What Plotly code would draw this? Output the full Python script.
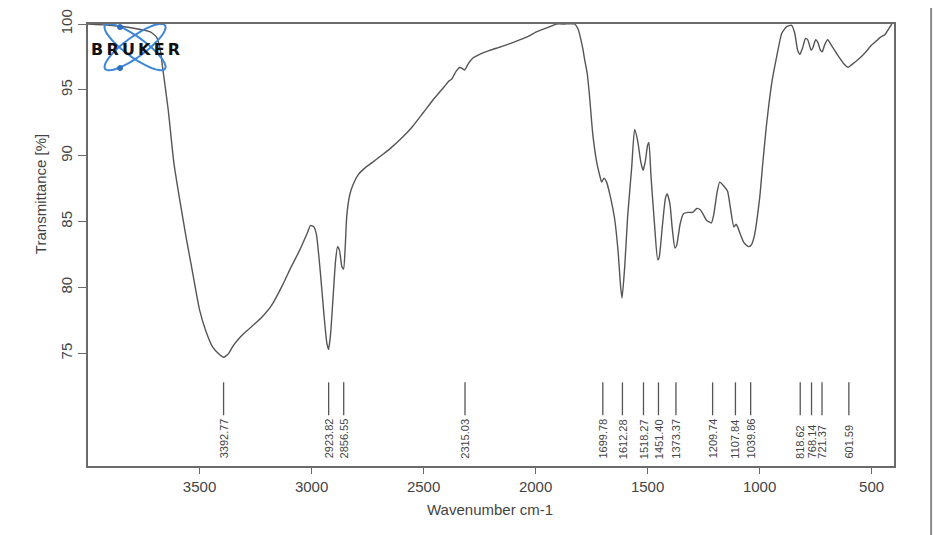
import numpy as np
import plotly.graph_objects as go

# IR spectrum (wavenumber cm-1, transmittance %)
wavenumber = [
    3998, 3900, 3800, 3720, 3692, 3675, 3665, 3640, 3615, 3589,
    3560, 3536, 3500, 3470, 3442, 3410, 3392, 3370, 3353, 3320,
    3290, 3250, 3219, 3180, 3129, 3090, 3054, 3020, 3005, 2990,
    2978, 2960, 2945, 2932, 2924, 2915, 2905, 2893, 2884, 2875,
    2865, 2857, 2850, 2843, 2830, 2815, 2790, 2760, 2728, 2690,
    2652, 2600, 2550, 2500, 2450, 2400, 2385, 2375, 2355, 2339,
    2325, 2317, 2300, 2281, 2250, 2205, 2150, 2085, 2040, 1996,
    1950, 1906, 1870, 1826, 1810, 1790, 1781, 1770, 1759, 1745,
    1728, 1715, 1705, 1695, 1683, 1665, 1647, 1632, 1620, 1614,
    1602, 1589, 1571, 1558, 1545, 1530, 1520, 1510, 1500, 1494,
    1485, 1470, 1455, 1448, 1435, 1420, 1412, 1400, 1390, 1378,
    1370, 1355, 1340, 1320, 1299, 1280, 1265, 1250, 1237, 1215,
    1205, 1190, 1178, 1160, 1143, 1130, 1115, 1105, 1098, 1085,
    1070, 1050, 1038, 1025, 999, 987, 970, 946, 924, 901,
    879, 857, 843, 830, 820, 808, 795, 785, 770, 762,
    750, 740, 728, 720, 710, 696, 680, 650, 620, 605,
    590, 560, 530, 500, 480, 460, 440, 425, 410,
]
transmittance = [
    100.0, 99.9, 99.7, 99.4, 99.0, 98.0, 96.7, 93.5, 89.5, 86.7,
    83.8, 81.6, 78.3, 76.6, 75.5, 74.9, 74.7, 75.0, 75.5, 76.2,
    76.7, 77.3, 77.8, 78.6, 80.2, 81.6, 82.8, 84.1, 84.7, 84.6,
    84.0, 81.0, 78.0, 75.8, 75.3, 76.5, 79.0, 82.0, 83.1, 82.8,
    81.6, 81.4, 83.0, 85.4, 87.0, 87.8, 88.6, 89.1, 89.5, 90.0,
    90.5, 91.3, 92.2, 93.3, 94.4, 95.4, 95.7, 95.8, 96.4, 96.7,
    96.6, 96.5, 97.0, 97.4, 97.7, 98.0, 98.3, 98.7, 99.0, 99.4,
    99.7, 100.0, 100.0, 100.0, 99.6, 98.2, 97.3, 96.3, 94.5, 91.7,
    89.6, 88.6, 88.0, 88.3, 88.0, 86.8, 85.2, 82.8, 80.0, 79.2,
    81.6, 85.4, 89.1, 92.0, 91.2, 89.5, 88.9, 89.6, 90.8, 91.0,
    88.5, 85.0, 82.1, 82.3, 84.5, 86.8, 87.1, 86.3, 84.5, 83.0,
    83.2, 84.8, 85.6, 85.7, 85.7, 86.0, 85.9, 85.5, 85.1, 84.9,
    85.5, 87.2, 88.0, 87.7, 87.3, 86.0, 84.6, 84.8, 84.6, 84.0,
    83.4, 83.1, 83.2, 83.8, 86.9, 89.2, 92.2, 95.5, 97.5, 99.3,
    99.8, 99.9, 99.3, 98.0, 97.7, 98.2, 98.9, 98.8, 98.0, 98.2,
    98.8, 98.6, 98.0, 97.9, 98.4, 98.8, 98.4, 97.6, 96.9, 96.7,
    96.9, 97.3, 97.8, 98.4, 98.7, 99.0, 99.2, 99.6, 100.0,
]

# peak picks printed under the spectrum
peak_labels = [
    "3392.77", "2923.82", "2856.55", "2315.03", "1699.78", "1612.28",
    "1518.27", "1451.40", "1373.37", "1209.74", "1107.84", "1039.86",
    "818.62", "768.14", "721.37", "601.59",
]
peak_pos = [float(p) for p in peak_labels]

x_ticks = [3500, 3000, 2500, 2000, 1500, 1000, 500]
y_ticks = [75, 80, 85, 90, 95, 100]

grey = "#555555"
axis_grey = "#6a6a6a"
font_fam = "Liberation Sans, Arial, sans-serif"

fig = go.Figure()
fig.add_trace(go.Scatter(
    x=wavenumber, y=transmittance, mode="lines",
    line=dict(color=grey, width=1.4, shape="spline", smoothing=0.5),
    hoverinfo="skip", showlegend=False,
))

# peak marker lines
px_, py_ = [], []
for p in peak_pos:
    px_ += [p, p, None]
    py_ += [72.8, 70.3, None]
fig.add_trace(go.Scatter(
    x=px_, y=py_, mode="lines", line=dict(color=grey, width=1.3),
    hoverinfo="skip", showlegend=False,
))

annotations = []
for p, lab in zip(peak_pos, peak_labels):
    annotations.append(dict(
        x=p, y=66.85, xref="x", yref="y", text=lab, showarrow=False,
        textangle=-90, xanchor="center", yanchor="bottom",
        font=dict(family=font_fam, size=11, color="#444444"),
    ))

annotations.append(dict(
    x=-0.0596, y=0.615, xref="paper", yref="paper", text="Transmittance [%]",
    showarrow=False, textangle=-90, xanchor="center", yanchor="middle",
    font=dict(family=font_fam, size=15, color="#444444"),
))
annotations.append(dict(
    x=0.499, y=-0.0995, xref="paper", yref="paper", text="Wavenumber cm-1",
    showarrow=False, xanchor="center", yanchor="middle",
    font=dict(family=font_fam, size=15, color="#444444"),
))

# Bruker logo: two crossed orbits plus the word mark
logo_x, logo_y = 3788, 98.25
shapes = []
t = np.linspace(0, 2 * np.pi, 60)
for ang in (36, -36):
    a, b, th = 37, 10, np.radians(ang)
    ex = a * np.cos(t) * np.cos(th) - b * np.sin(t) * np.sin(th)
    ey = a * np.cos(t) * np.sin(th) + b * np.sin(t) * np.cos(th)
    path = "M " + " L ".join(f"{u:.1f},{v:.1f}" for u, v in zip(ex, ey)) + " Z"
    shapes.append(dict(
        type="path", path=path, xref="x", yref="y",
        xsizemode="pixel", ysizemode="pixel", xanchor=logo_x, yanchor=logo_y,
        line=dict(color="#3d86d8", width=2),
    ))
for dx, dy in ((-15, 20), (-15, -21)):
    shapes.append(dict(
        type="circle", xref="x", yref="y",
        xsizemode="pixel", ysizemode="pixel", xanchor=logo_x, yanchor=logo_y,
        x0=dx - 2.5, x1=dx + 2.5, y0=dy - 2.5, y1=dy + 2.5,
        fillcolor="#2f6fbf", line=dict(color="#2f6fbf", width=1),
    ))
annotations.append(dict(
    x=logo_x, y=98.1, xref="x", yref="y", text="<b>B\u2009R\u2009U\u2009K\u2009E\u2009R</b>",
    showarrow=False, xanchor="center", yanchor="middle",
    font=dict(family="DejaVu Sans", size=16, color="#111111"),
))

# frame line at the right side of the screenshot
shapes.append(dict(
    type="line", xref="paper", yref="paper", x0=1.046, x1=1.046, y0=-0.2, y1=1.1,
    line=dict(color="#8a8a8a", width=2),
))

# page body has an 8px margin, so the figure is sized to sit inside it
fig.update_layout(
    width=934, height=527,
    margin=dict(l=80, r=48, t=16, b=69),
    paper_bgcolor="white", plot_bgcolor="white",
    annotations=annotations, shapes=shapes,
    font=dict(family=font_fam, size=15, color="#444444"),
)
fig.update_xaxes(
    range=[3998, 400], tickvals=x_ticks, ticks="outside", ticklen=6,
    tickcolor=axis_grey, showline=True, linecolor=axis_grey, linewidth=1.5,
    mirror=True, showgrid=False, zeroline=False, automargin=False,
    tickfont=dict(family=font_fam, size=15, color="#444444"),
)
fig.update_yaxes(
    range=[66.45, 100], tickvals=y_ticks, ticks="outside", ticklen=8,
    tickangle=-90, tickcolor=axis_grey, showline=True, linecolor=axis_grey,
    linewidth=1.5, mirror=True, showgrid=False, zeroline=False, automargin=False,
    tickfont=dict(family=font_fam, size=15, color="#444444"),
)

fig.write_html("out.html")
